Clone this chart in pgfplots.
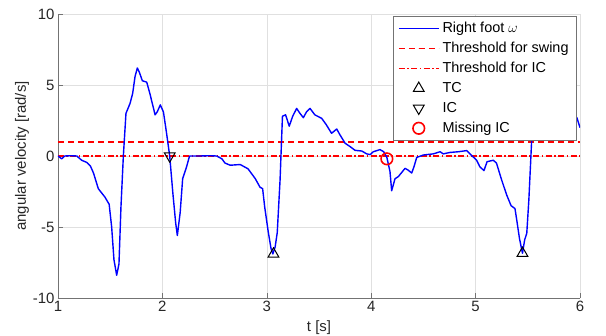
\documentclass[border=0pt]{standalone}
\usepackage{fontspec}
\setmainfont{Liberation Sans}
\usepackage{pgfplots}
\pgfplotsset{compat=1.18}
\definecolor{axgray}{gray}{0.45}
\definecolor{txtgray}{gray}{0.15}
\definecolor{gridgray}{gray}{0.88}
\definecolor{thr}{rgb}{1,0,0}
\begin{document}
\begin{tikzpicture}
\begin{axis}[
  scale only axis, width=522bp, height=284bp,
  xmin=1, xmax=6, ymin=-10, ymax=10,
  xtick={1,2,3,4,5,6}, ytick={-10,-5,0,5,10},
  axis lines*=left,
  axis line style={axgray, line width=0.6bp},
  tick align=inside, major tick length=5bp,
  tick style={axgray, line width=0.6bp},
  grid=major, major grid style={gridgray, line width=0.6bp},
  /pgf/number format/assume math mode=true,
  ticklabel style={font=\fontsize{15}{17}\selectfont, text=txtgray},
  xlabel={t [s]}, ylabel={angular velocity [rad/s]},
  label style={font=\fontsize{15}{17}\selectfont, text=txtgray},
  xlabel style={at={(axis description cs:0.5,0)}, anchor=base, yshift=-33bp},
  ylabel style={at={(axis description cs:0,0.5)}, anchor=center, rotate=0, yshift=36bp},
  legend cell align=left,
  legend style={at={(0.994,0.993)}, anchor=north east, draw=axgray, line width=0.6bp,
    fill=white, inner xsep=5bp, inner ysep=2bp,
    font=\fontsize{14.5}{16}\selectfont, text=black,
    nodes={inner xsep=3bp, inner ysep=3bp, text height=11bp, text depth=3bp}},
  legend image code/.code={\draw[mark repeat=2,mark phase=2,#1] plot coordinates {(0bp,0bp)(20bp,0bp)(40bp,0bp)};},
]
\addplot[color=thr, line width=1.5bp, dash pattern=on 6bp off 4bp, forget plot] coordinates {(1,1) (6,1)};
\addplot[color=thr, line width=1.5bp, dash pattern=on 6bp off 2.5bp on 1.5bp off 2.5bp, forget plot] coordinates {(1,0) (6,0)};
\addplot[blue, line width=1.4bp, line join=round] coordinates {
(1.00,0) (1.035,-0.2) (1.065,0) (1.12,0.02) (1.18,0) (1.227,-0.3) (1.275,-0.45) (1.31,-0.7)
(1.34,-1.2) (1.386,-2.3) (1.45,-2.9) (1.49,-3.4) (1.514,-5.0) (1.536,-7.3) (1.562,-8.4)
(1.584,-7.6) (1.603,-3.6) (1.626,0) (1.651,3.0) (1.69,3.7) (1.715,4.4) (1.738,5.6) (1.76,6.2)
(1.779,5.9) (1.808,5.3) (1.85,5.2) (1.88,4.4) (1.93,2.9) (1.95,3.1) (1.98,3.6) (2.01,3.1)
(2.04,1.6) (2.07,0) (2.10,-2.6) (2.127,-4.7) (2.143,-5.6) (2.17,-4.0) (2.194,-1.6) (2.23,-0.8)
(2.26,0) (2.36,0) (2.45,0.02) (2.52,0) (2.57,-0.2) (2.6,-0.5) (2.65,-0.65) (2.745,-0.6)
(2.82,-0.9) (2.89,-1.6) (2.935,-2.2) (2.96,-2.3) (2.98,-3.6) (3.015,-5.4) (3.04,-6.5)
(3.058,-6.9) (3.08,-6.4) (3.1,-5.4) (3.127,-1.7) (3.15,2.8) (3.18,2.9) (3.215,2.1) (3.248,2.8)
(3.286,3.35) (3.318,3.0) (3.35,2.7) (3.38,3.1) (3.414,3.35) (3.46,2.9) (3.526,2.65) (3.57,2.2)
(3.62,1.6) (3.67,1.9) (3.70,1.5) (3.75,0.9) (3.80,0.65) (3.845,0.4) (3.91,0.35) (3.957,0.15)
(3.99,0.1) (4.02,0.3) (4.084,0.45) (4.12,0.3) (4.15,-0.1) (4.18,-1.1) (4.196,-2.45) (4.228,-1.6)
(4.26,-1.45) (4.324,-0.87) (4.355,-1.0) (4.388,-1.2) (4.41,-0.75) (4.436,-0.1) (4.5,0.07)
(4.595,0.15) (4.66,0.3) (4.69,0.15) (4.755,0.25) (4.835,0.3) (4.915,0.38) (4.946,0.15)
(5.01,-0.3) (5.04,-0.75) (5.08,-1.03) (5.11,-0.4) (5.17,-0.3) (5.2,-0.5) (5.25,-1.7)
(5.298,-2.75) (5.34,-3.5) (5.377,-3.7) (5.394,-4.5) (5.42,-5.8) (5.449,-6.85) (5.47,-5.9)
(5.49,-5.45) (5.51,-3.1) (5.528,-0.3) (5.537,1.1) (5.56,2.6) (5.6,3.3) (5.7,3.6) (5.8,3.3)
(5.9,3.0) (5.97,2.7) (6.0,2.0)
};
\addlegendentry{Right foot $\omega$}
\addlegendimage{color=thr, line width=1.5bp, dash pattern=on 6bp off 4bp}
\addlegendentry{Threshold for swing}
\addlegendimage{color=thr, line width=1.5bp, dash pattern=on 6bp off 2.5bp on 1.5bp off 2.5bp}
\addlegendentry{Threshold for IC}
\addplot[only marks, mark=triangle, mark size=6.2bp, black, line width=1bp] coordinates {(3.064,-6.9) (5.449,-6.85)};
\addlegendentry{TC}
\addplot[only marks, mark=triangle, mark options={rotate=180}, mark size=6.2bp, black, line width=1bp] coordinates {(2.07,0)};
\addlegendentry{IC}
\addplot[only marks, mark=o, mark size=5.8bp, red, line width=1.6bp] coordinates {(4.15,-0.2)};
\addlegendentry{Missing IC}
\coordinate (bl) at (rel axis cs:0,0);
\coordinate (tr) at (rel axis cs:1,1);
\end{axis}
\pgfresetboundingbox
\path ([shift={(-58bp,-38bp)}]bl) rectangle ([shift={(26bp,14bp)}]tr);
\end{tikzpicture}
\end{document}
